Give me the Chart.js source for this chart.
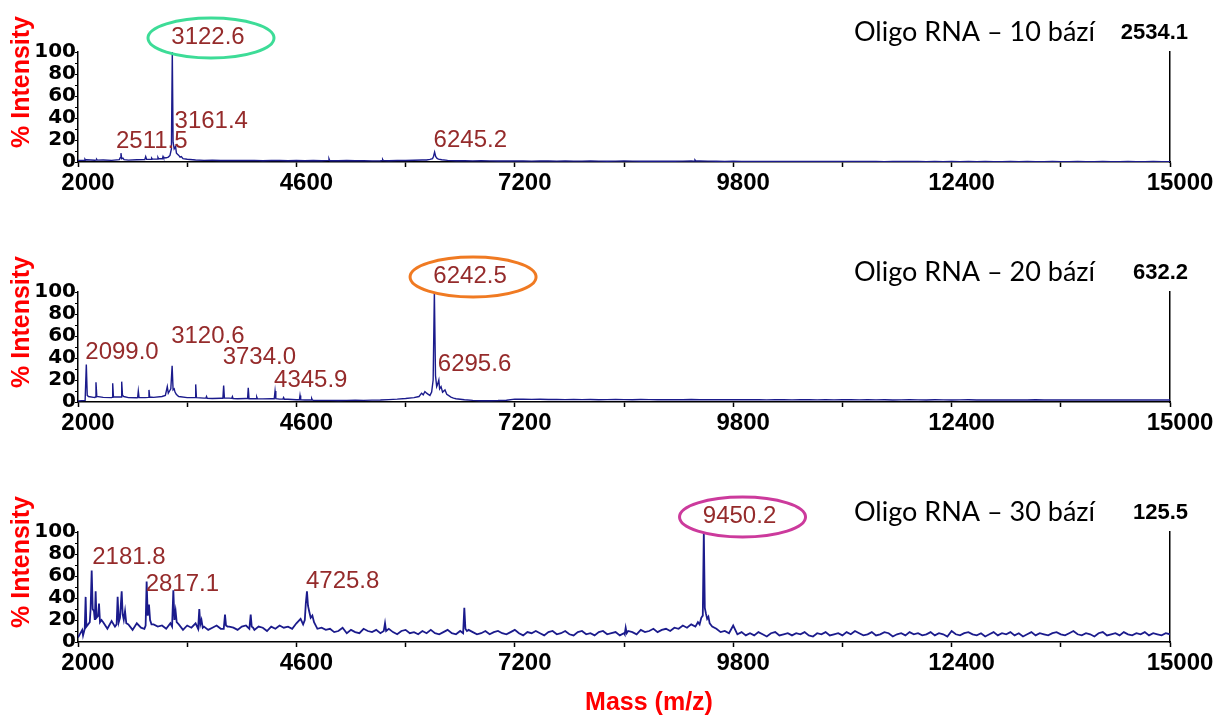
<!DOCTYPE html>
<html>
<head>
<meta charset="utf-8">
<script src="https://cdn.jsdelivr.net/npm/chart.js@4.4.1/dist/chart.umd.min.js"></script>
<style>
  html, body { margin: 0; padding: 0; background: #fff; overflow: hidden; }
  #wrap { position: relative; width: 1218px; height: 716px; }
  .panel { position: absolute; left: 0; width: 1218px; height: 240px; }
</style>
</head>
<body>
<div id="wrap">
  <div class="panel" style="top:0"><canvas id="spec10" width="1218" height="240"></canvas></div>
  <div class="panel" style="top:240px"><canvas id="spec20" width="1218" height="240"></canvas></div>
  <div class="panel" style="top:480px"><canvas id="spec30" width="1218" height="240"></canvas></div>
</div>
<script>
// Mass axis
const massMin = 2000;
const massMax = 15000;
const massTicks = [2000, 3300, 4600, 5900, 7200, 8500, 9800, 11100, 12400, 13700, 15000];

// 10-mer: baseline sampled every 100 Da from 2000, then hand-read peak profiles
const tenStep = 100;
const tenBaseline = [
  1.5, 2, 1.6, 1.8, 1.5, 2.2, 1.7, 2, 2.4, 2.6,
  3, 5, 5, 2.5, 1.8, 1.5, 1.6, 1.4, 1.5, 1.3,
  1.3, 1.5, 1.2, 1.4, 1.3, 1.2, 1.4, 1.2, 1.3, 1.1,
  1.2, 1.1, 1.3, 1.1, 1.2, 1.0, 1.2, 1.1, 1.3, 1.4,
  1.6, 1.8, 2.2, 1.8, 1.5, 1.2, 1.1, 1.0, 1.1, 1.0,
  0.9, 1.0, 0.9, 1.0, 0.8, 0.9, 1.0, 0.8, 0.9, 0.8,
  0.8, 0.9, 0.8, 0.7, 0.8, 0.9, 0.8, 0.7, 0.8, 0.7,
  0.8, 0.7, 0.8, 0.9, 1.0, 0.8, 0.7, 0.6, 0.7, 0.6,
  0.5, 0.6, 0.5, 0.6, 0.5, 0.4, 0.5, 0.6, 0.5, 0.4,
  0.5, 0.4, 0.5, 0.4, 0.5, 0.4, 0.3, 0.4, 0.5, 0.4,
  0.4, 0.3, 0.4, 0.3, 0.4, 0.3, 0.4, 0.3, 0.4, 0.3,
  0.3, 0.4, 0.3, 0.4, 0.3, 0.3, 0.4, 0.3, 0.3, 0.4,
  0.3, 0.3, 0.4, 0.3, 0.3, 0.4, 0.3, 0.3, 0.4, 0.3,
  0.3
];
const tenPeaks = [
  [[2075, 1.6], [2083, 2.6], [2092, 1.7]],
  [[2215, 1.8], [2222, 2.5], [2230, 1.7]],
  [[2492, 2.2], [2503, 4], [2511.5, 8], [2520, 3], [2535, 3.5], [2548, 2.2]],
  [[2795, 2.2], [2806, 5], [2817, 2.4]],
  [[2870, 2.5], [2877, 3.5], [2886, 2.6]],
  [[2945, 2.7], [2952, 4.2], [2960, 3]],
  [[3005, 3.2], [3012, 5], [3020, 3.6]],
  [[3050, 3.8], [3075, 4.5], [3095, 6], [3112, 12], [3122.6, 100], [3132, 18], [3145, 12],
   [3161.4, 14], [3172, 8], [3185, 7], [3200, 6], [3215, 4.5], [3230, 5], [3250, 3]],
  [[4980, 1.5], [4988, 3], [4996, 1.4]],
  [[5620, 1.3], [5627, 2.2], [5634, 1.2]],
  [[6150, 1.8], [6190, 2.4], [6220, 3], [6232, 5], [6245.2, 9], [6258, 5], [6272, 3.5], [6290, 2.6], [6330, 2]],
  [[9335, 0.8], [9345, 1.8], [9355, 0.9]]
];
const tenLabels = [3122.6, 3161.4, 2511.5, 6245.2];

// 20-mer
const twentyStep = 100;
const twentyBaseline = [
  1, 4.5, 4, 4.2, 4, 4.5, 4, 3.8, 4, 4.2,
  5, 10, 5, 4, 3.8, 3.5, 3.2, 3.4, 3.5, 3,
  3.2, 3, 2.8, 3, 2.6, 2.5, 2, 1.8, 1.6, 1.5,
  1.5, 1.4, 1.5, 1.6, 1.5, 1.7, 1.8, 2.2, 2.6, 3.2,
  4, 7, 9, 12, 6, 3, 2, 1.5, 1.2, 1.2,
  1.3, 1.6, 2.6, 2.5, 2.4, 2.5, 2.3, 2.4, 2.2, 2.3,
  2.2, 2.3, 2.1, 2.2, 2.4, 2.2, 2.1, 2.3, 2.2, 2.1,
  2.2, 2.0, 2.1, 2.3, 2.1, 2.0, 2.2, 2.1, 2.0, 2.1,
  2.0, 2.1, 1.9, 2.0, 2.1, 1.9, 2.0, 2.1, 1.9, 2.0,
  1.9, 2.0, 2.1, 1.9, 2.0, 1.9, 2.0, 1.8, 1.9, 2.0,
  1.9, 1.8, 2.0, 1.9, 1.8, 1.9, 2.0, 1.8, 1.9, 1.8,
  1.9, 1.8, 1.9, 1.8, 2.0, 1.8, 1.9, 1.8, 1.9, 1.8,
  1.8, 1.9, 1.8, 1.9, 1.8, 1.9, 1.8, 1.9, 1.8, 1.9,
  1.8
];
const twentyPeaks = [
  [[2085, 1.5], [2099.0, 34], [2110, 6], [2125, 5]],
  [[2205, 4.5], [2214, 18], [2224, 5]],
  [[2405, 4.2], [2413, 17], [2422, 4.5]],
  [[2512, 4.5], [2520, 18.5], [2530, 6], [2545, 5]],
  [[2710, 4], [2718, 10], [2727, 4]],
  [[2838, 4.2], [2845, 11], [2853, 4.5]],
  [[3040, 6], [3063, 14], [3075, 8], [3090, 10], [3105, 12], [3120.6, 33], [3132, 11],
   [3145, 12], [3155, 9], [3170, 7], [3190, 5.5]],
  [[3393, 4], [3401, 16], [3410, 4]],
  [[3522, 3.5], [3530, 5], [3538, 3.4]],
  [[3725, 3.4], [3734.0, 15], [3743, 3.6]],
  [[3830, 3.3], [3838, 5], [3846, 3.2]],
  [[4019, 3.1], [4027, 13], [4036, 3]],
  [[4120, 3], [4128, 4.5], [4136, 2.9]],
  [[4336, 2.9], [4345.9, 10], [4355, 3]],
  [[4440, 2.6], [4448, 4], [4456, 2.5]],
  [[4636, 2], [4643, 6], [4651, 2]],
  [[4775, 1.8], [4782, 3.2], [4790, 1.8]],
  [[6060, 5], [6090, 8], [6110, 6.5], [6130, 9.5], [6150, 8], [6170, 7], [6190, 6], [6210, 9],
   [6228, 20], [6242.5, 100], [6256, 24], [6270, 14], [6280, 16], [6295.6, 20], [6305, 12],
   [6322, 14], [6340, 9], [6369, 11], [6390, 7], [6410, 6], [6440, 4.5], [6470, 3.5]]
];
const twentyLabels = [2099.0, 3120.6, 3734.0, 4345.9, 6242.5, 6295.6];

// 30-mer: noisy trace, baseline every 50 Da
const thirtyStep = 50;
const thirtyBaseline = [
  4, 11, 19, 15, 21, 14, 18, 12, 19, 13,
  20, 12, 16, 11, 17, 13, 18, 12, 16, 14,
  15, 12, 17, 14, 16, 11, 15, 13, 17, 12,
  14, 11, 13, 15, 12, 10, 14, 13, 11, 14,
  15, 12, 11, 14, 13, 10, 14, 12, 15, 13,
  14, 12, 17, 21, 18, 14, 16, 12, 13, 11,
  12, 9, 10, 13, 8, 11, 9, 8, 12, 10,
  9, 11, 8, 10, 12, 9, 7, 10, 11, 8,
  9, 7, 10, 8, 11, 8, 7, 9, 11, 8,
  7, 10, 8, 11, 9, 7, 8, 10, 7, 9,
  10, 8, 7, 9, 11, 8, 6, 9, 8, 10,
  8, 6, 9, 10, 7, 8, 10, 7, 6, 9,
  10, 7, 8, 6, 9, 10, 7, 8, 9, 6,
  8, 10, 9, 7, 11, 9, 10, 12, 9, 11,
  12, 10, 13, 12, 15, 13, 16, 14, 17, 19,
  16, 14, 12, 9, 10, 8, 15, 7, 9, 6,
  8, 6, 9, 7, 5, 8, 9, 6, 7, 8,
  6, 8, 7, 9, 6, 5, 8, 7, 9, 6,
  7, 8, 6, 9, 7, 10, 8, 6, 7, 9,
  6, 7, 9, 8, 5, 7, 8, 6, 9, 7,
  8, 6, 7, 9, 6, 8, 7, 5, 10, 7,
  6, 8, 9, 7, 6, 8, 5, 7, 9, 6,
  8, 7, 9, 6, 8, 5, 7, 9, 6, 8,
  7, 6, 8, 9, 7, 6, 8, 10, 7, 6,
  8, 7, 5, 8, 9, 6, 7, 8, 6, 9,
  7, 6, 8, 7, 9, 6, 8, 7, 6, 8,
  7
];
const thirtyPeaks = [
  [[2060, 6], [2080, 12], [2091, 41], [2100, 14], [2120, 16], [2140, 18], [2150, 30], [2163, 65],
   [2175, 30], [2190, 28], [2200, 20], [2210, 46], [2220, 22], [2240, 24], [2250, 35], [2262, 18], [2280, 20]],
  [[2440, 14], [2460, 16], [2472, 41], [2485, 18], [2500, 22], [2520, 46], [2532, 25], [2545, 20], [2560, 28], [2575, 17]],
  [[2790, 12], [2805, 15], [2817.1, 55], [2830, 24], [2845, 34], [2858, 20], [2875, 16]],
  [[3120, 14], [3135, 47], [3148, 20], [3162, 28], [3175, 18]],
  [[3430, 12], [3444, 30], [3456, 16], [3470, 20], [3485, 13]],
  [[3735, 12], [3750, 25], [3762, 15], [3780, 14]],
  [[4040, 12], [4056, 25], [4068, 14], [4085, 13]],
  [[4680, 16], [4700, 20], [4712, 35], [4725.8, 46], [4738, 33], [4752, 28], [4770, 22], [4790, 24], [4810, 18]],
  [[5640, 10], [5655, 17], [5668, 10]],
  [[6585, 8], [6599, 31], [6612, 12], [6630, 10]],
  [[8508, 7], [8520, 13], [8532, 8]],
  [[9380, 18], [9400, 16], [9420, 22], [9438, 24], [9450.2, 100], [9462, 31], [9475, 26], [9490, 21],
   [9505, 23], [9520, 17], [9540, 15]]
];
const thirtyLabels = [2181.8, 2817.1, 4725.8, 9450.2];

const lineColor = '#1b1b8c';
const peakLabelColor = '#952b2b';
const axisFont = '"Liberation Sans", Arial, sans-serif';

// baseline samples that fall inside a typed peak profile are replaced by it
function buildSpectrum(baseline, step, peaks) {
  const points = [];
  baseline.forEach((v, i) => {
    const m = massMin + i * step;
    const inside = peaks.some(g => m >= g[0][0] && m <= g[g.length - 1][0]);
    if (!inside) points.push({ x: m, y: v });
  });
  peaks.forEach(g => g.forEach(([m, v]) => points.push({ x: m, y: v })));
  return points.sort((a, b) => a.x - b.x);
}

const annotate = {
  id: 'annotate',
  afterDraw(chart, args, opts) {
    const { ctx } = chart;
    const x = chart.scales.x;
    const y = chart.scales.y;
    ctx.save();

    // peak mass labels, optionally ringed
    ctx.font = '24px ' + axisFont;
    ctx.textAlign = 'left';
    ctx.textBaseline = 'middle';
    opts.labels.forEach(l => {
      const px = x.getPixelForValue(l.mass) + (l.dx || -1);
      const py = y.getPixelForValue(l.level);
      const text = l.mass.toFixed(1);
      ctx.fillStyle = peakLabelColor;
      ctx.fillText(text, px, py);
      if (l.ring) {
        const w = ctx.measureText(text).width;
        ctx.beginPath();
        ctx.ellipse(px + w / 2 + 3, py + 1, 63, 20, 0, 0, Math.PI * 2);
        ctx.strokeStyle = l.ring;
        ctx.lineWidth = 3;
        ctx.stroke();
      }
    });

    // sample name and absolute intensity of the 100% peak
    ctx.fillStyle = '#000';
    ctx.textAlign = 'right';
    ctx.font = '27px Lato, "Open Sans", sans-serif';
    ctx.fillText(opts.title, 1095, 32);
    ctx.font = 'bold 22px ' + axisFont;
    ctx.fillText(opts.maxCounts, 1188, 33);

    // y axis title
    ctx.save();
    ctx.translate(22, 82);
    ctx.rotate(-Math.PI / 2);
    ctx.textAlign = 'center';
    ctx.fillStyle = '#ff0000';
    ctx.font = 'bold 25px ' + axisFont;
    ctx.fillText('% Intensity', 0, 0);
    ctx.restore();

    if (opts.xTitle) {
      ctx.textAlign = 'center';
      ctx.fillStyle = '#ff0000';
      ctx.font = 'bold 25px ' + axisFont;
      ctx.fillText(opts.xTitle, 649, 223);
    }
    ctx.restore();
  }
};

function makeChart(id, points, annot) {
  return new Chart(document.getElementById(id), {
    type: 'line',
    data: {
      datasets: [{
        data: points,
        borderColor: lineColor,
        borderWidth: annot.lineWidth,
        pointRadius: 0,
        tension: 0
      }]
    },
    options: {
      responsive: false,
      animation: false,
      events: [],
      layout: { padding: { top: 52, right: 48, left: 0, bottom: 0 } },
      plugins: { legend: { display: false }, tooltip: { enabled: false }, annotate: annot },
      scales: {
        x: {
          type: 'linear',
          min: massMin,
          max: massMax,
          afterBuildTicks: s => { s.ticks = massTicks.map(v => ({ value: v })); },
          afterFit: s => { s.height = 78; },
          grid: { drawOnChartArea: false, drawTicks: true, tickLength: 5, color: '#000', tickWidth: 1.5 },
          border: { color: '#000', width: 1.5 },
          ticks: {
            autoSkip: false,
            maxRotation: 0,
            padding: 2,
            labelOffset: 10,
            color: '#000',
            font: { family: 'Liberation Sans', weight: 'bold', size: 24 },
            callback: (v, i) => (i % 2 === 0 ? String(v) : '')
          }
        },
        y: {
          min: 0,
          max: 100,
          afterFit: s => { s.width = 78; },
          grid: { drawOnChartArea: false, drawTicks: true, tickLength: 3, color: '#000', tickWidth: 1 },
          border: { color: '#000', width: 1.5 },
          ticks: {
            stepSize: 10,
            autoSkip: false,
            padding: -1,
            color: '#000',
            font: { family: 'DejaVu Sans', weight: 'bold', size: 20 },
            callback: v => (v % 20 === 0 ? String(v) : '')
          }
        },
        yRight: {
          position: 'right',
          min: 0,
          max: 100,
          afterFit: s => { s.width = 0; },
          grid: { drawOnChartArea: false, drawTicks: false },
          border: { color: '#000', width: 1.5 },
          ticks: { display: false }
        }
      }
    },
    plugins: [annotate]
  });
}

makeChart('spec10', buildSpectrum(tenBaseline, tenStep, tenPeaks), {
  title: 'Oligo RNA – 10 bází',
  maxCounts: '2534.1',
  lineWidth: 1.4,
  labels: [
    { mass: tenLabels[0], level: 113.6, ring: '#3ddc97' },
    { mass: tenLabels[1], level: 37.3 },
    { mass: tenLabels[2], level: 19.1, dx: -5 },
    { mass: tenLabels[3], level: 20 }
  ]
});

makeChart('spec20', buildSpectrum(twentyBaseline, twentyStep, twentyPeaks), {
  title: 'Oligo RNA – 20 bází',
  maxCounts: '632.2',
  lineWidth: 1.4,
  labels: [
    { mass: twentyLabels[0], level: 45.5 },
    { mass: twentyLabels[1], level: 60 },
    { mass: twentyLabels[2], level: 41 },
    { mass: twentyLabels[3], level: 20 },
    { mass: twentyLabels[4], level: 114.5, ring: '#f07a22' },
    { mass: twentyLabels[5], level: 34.5 }
  ]
});

makeChart('spec30', buildSpectrum(thirtyBaseline, thirtyStep, thirtyPeaks), {
  title: 'Oligo RNA – 30 bází',
  maxCounts: '125.5',
  lineWidth: 1.8,
  xTitle: 'Mass (m/z)',
  labels: [
    { mass: thirtyLabels[0], level: 77 },
    { mass: thirtyLabels[1], level: 52.7 },
    { mass: thirtyLabels[2], level: 55.5 },
    { mass: thirtyLabels[3], level: 114.5, ring: '#cc3a9c' }
  ]
});
</script>
</body>
</html>
